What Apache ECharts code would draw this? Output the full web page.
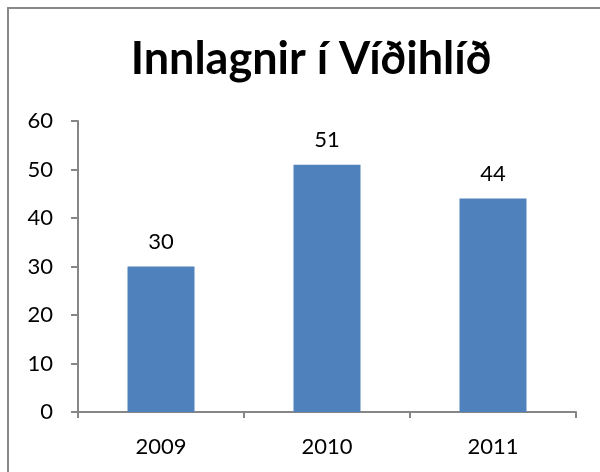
<!DOCTYPE html>
<html>
<head>
<meta charset="utf-8">
<script src="https://cdn.jsdelivr.net/npm/echarts@6/dist/echarts.min.js"></script>
<style>
  html, body { margin: 0; padding: 0; background: #fff; }
  #chart { width: 600px; height: 472px; }
</style>
</head>
<body>
<div id="chart"></div>
<script>
// Admissions per year
const years = ['2009', '2010', '2011'];
const admissions = [30, 51, 44];
const yTicks = { min: 0, max: 60, interval: 10 };

const FONT = 'Lato, "Open Sans", "DejaVu Sans", sans-serif';
const AXIS_GRAY = '#868686';

const chart = echarts.init(document.getElementById('chart'), null, { renderer: 'canvas' });

chart.setOption({
  backgroundColor: '#ffffff',
  animation: false,
  title: {
    text: 'Innlagnir í Víðihlíð',
    left: 306,
    top: 32,
    textAlign: 'center',
    textStyle: { fontFamily: FONT, fontWeight: 'bold', fontSize: 45, color: '#000' }
  },
  graphic: [{
    type: 'rect',
    shape: { x: 8, y: 8, width: 620, height: 500 },
    style: { fill: 'none', stroke: '#898989', lineWidth: 2 },
    silent: true
  }],
  grid: { left: 78, right: 24, top: 121, bottom: 60, containLabel: false },
  xAxis: {
    type: 'category',
    data: years,
    axisLine: { lineStyle: { color: AXIS_GRAY, width: 2 } },
    axisTick: { show: true, length: 6, alignWithLabel: false, lineStyle: { color: AXIS_GRAY, width: 2 } },
    axisLabel: { fontFamily: FONT, fontSize: 22, color: '#000', margin: 24 },
    splitLine: { show: false }
  },
  yAxis: {
    type: 'value',
    min: yTicks.min,
    max: yTicks.max,
    interval: yTicks.interval,
    axisLine: { show: true, lineStyle: { color: AXIS_GRAY, width: 2 } },
    axisTick: { show: true, length: 7, lineStyle: { color: AXIS_GRAY, width: 2 } },
    axisLabel: { fontFamily: FONT, fontSize: 22, color: '#000', margin: 25 },
    splitLine: { show: false }
  },
  series: [{
    type: 'bar',
    data: admissions,
    barWidth: 67,
    itemStyle: { color: '#4F81BD' },
    label: {
      show: true,
      position: 'top',
      distance: 14,
      fontFamily: FONT,
      fontSize: 22,
      color: '#000'
    }
  }]
});
</script>
</body>
</html>
